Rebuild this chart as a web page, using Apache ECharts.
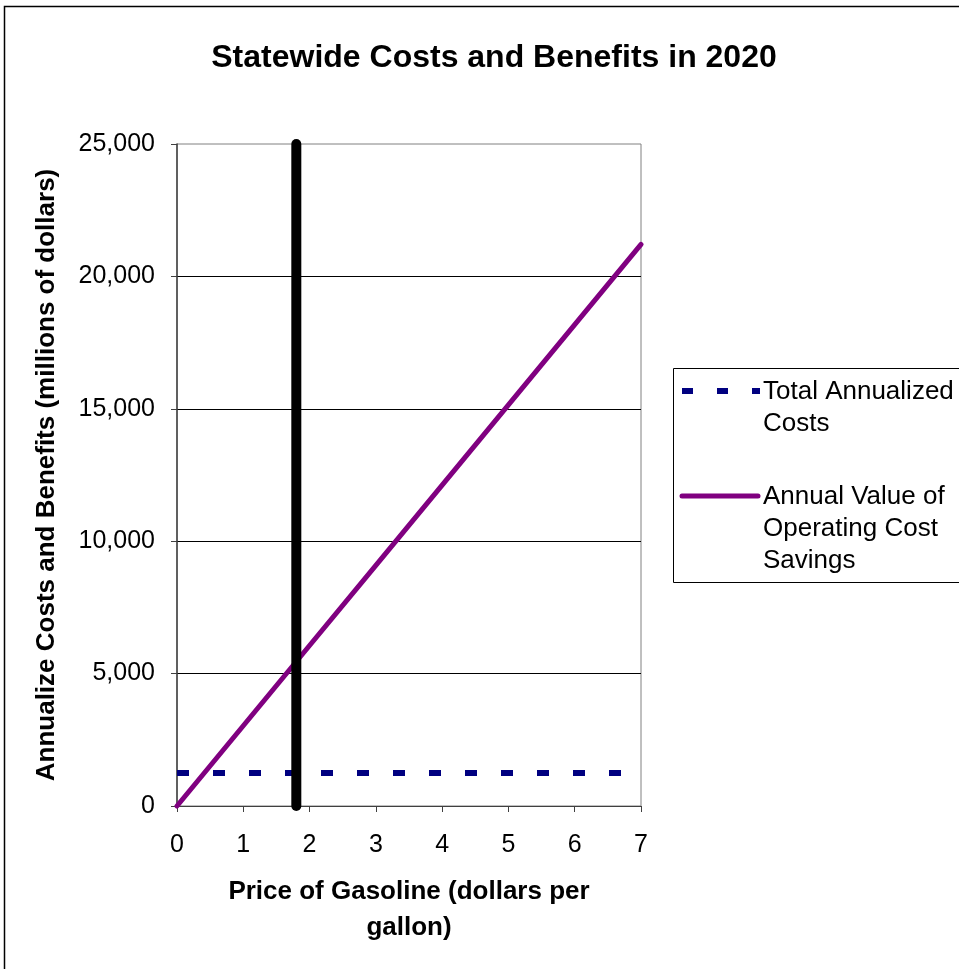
<!DOCTYPE html>
<html>
<head>
<meta charset="utf-8">
<title>Statewide Costs and Benefits in 2020</title>
<script src="https://cdn.jsdelivr.net/npm/echarts@6/dist/echarts.min.js"></script>
<style>
  html, body { margin: 0; padding: 0; background: #fff; }
  #chart { width: 959px; height: 969px; }
</style>
</head>
<body>
<div id="chart"></div>
<script>
// Gasoline price (dollars per gallon) and annual values (millions of dollars)
const priceTicks = [0, 1, 2, 3, 4, 5, 6, 7];
const costPrices = [0, 7];
const totalAnnualizedCosts = [1250, 1250];
const savingsPrices = [0, 1, 2, 3, 4, 5, 6, 7];
const operatingCostSavings = [0, 3030, 6060, 9090, 12120, 15150, 18180, 21210];
const referencePrice = [1.8, 1.8];
const referenceSpan = [0, 25000];

const costName = 'Total Annualized Costs';
const savingsName = 'Annual Value of Operating Cost Savings';

const font = '"Liberation Sans", Arial, sans-serif';

const chart = echarts.init(document.getElementById('chart'), null, { renderer: 'canvas' });

const pairs = (xs, ys) => xs.map((x, i) => [x, ys[i]]);

chart.setOption({
  animation: false,
  backgroundColor: '#ffffff',
  title: {
    text: 'Statewide Costs and Benefits in 2020',
    left: 489,
    top: 37,
    textAlign: 'center',
    textStyle: { fontFamily: font, fontSize: 32, fontWeight: 'bold', color: '#000' }
  },
  grid: {
    left: 177, top: 144, width: 464, height: 662,
    show: true, borderColor: '#808080', borderWidth: 1, backgroundColor: 'transparent'
  },
  xAxis: {
    type: 'value',
    min: 0, max: 7, interval: 1,
    name: 'Price of Gasoline (dollars per\ngallon)',
    nameLocation: 'middle',
    nameGap: 68,
    nameTextStyle: { fontFamily: font, fontSize: 26, fontWeight: 'bold', color: '#000', lineHeight: 36 },
    axisLine: { show: true, lineStyle: { color: '#404040', width: 1 } },
    axisTick: { show: true, length: 6, lineStyle: { color: '#404040' } },
    axisLabel: {
      fontFamily: font, fontSize: 25, color: '#000', margin: 27,
      formatter: v => priceTicks.includes(v) ? String(v) : ''
    },
    splitLine: { show: false }
  },
  yAxis: {
    type: 'value',
    min: 0, max: 25000, interval: 5000,
    name: 'Annualize Costs and Benefits (millions of dollars)',
    nameLocation: 'middle',
    nameGap: 117,
    nameRotate: 90,
    nameTextStyle: { fontFamily: font, fontSize: 26, fontWeight: 'bold', color: '#000' },
    axisLine: { show: true, lineStyle: { color: '#404040', width: 1.5 } },
    axisTick: { show: true, length: 6, lineStyle: { color: '#404040' } },
    axisLabel: {
      fontFamily: font, fontSize: 25, color: '#000', margin: 22,
      formatter: v => v.toLocaleString('en-US')
    },
    splitLine: { show: true, showMinLine: false, showMaxLine: false, lineStyle: { color: '#000', width: 1 } }
  },
  series: [
    {
      name: costName,
      type: 'line',
      data: pairs(costPrices, totalAnnualizedCosts),
      showSymbol: false,
      lineStyle: { color: '#000080', width: 6, type: [12, 24], cap: 'butt' },
      itemStyle: { color: '#000080' },
      z: 2
    },
    {
      name: savingsName,
      type: 'line',
      data: pairs(savingsPrices, operatingCostSavings),
      showSymbol: false,
      lineStyle: { color: '#800080', width: 5, cap: 'round' },
      itemStyle: { color: '#800080' },
      clip: false,
      z: 3
    },
    {
      name: 'Reference price',
      type: 'line',
      data: pairs(referencePrice, referenceSpan),
      showSymbol: false,
      lineStyle: { color: '#000', width: 10, cap: 'round' },
      itemStyle: { color: '#000' },
      clip: false,
      z: 4
    }
  ],
  graphic: [
    // outer chart border
    {
      type: 'rect', silent: true, z: 0,
      shape: { x: 4.5, y: 6.5, width: 1000, height: 1000 },
      style: { fill: 'none', stroke: '#000', lineWidth: 1.5 }
    },
    // legend box
    {
      type: 'rect', silent: true,
      shape: { x: 673.5, y: 368.5, width: 400, height: 214 },
      style: { fill: '#fff', stroke: '#000', lineWidth: 1 }
    },
    {
      type: 'line', silent: true,
      shape: { x1: 682, y1: 391, x2: 760, y2: 391 },
      style: { stroke: '#000080', lineWidth: 6, lineDash: [11, 24] }
    },
    {
      type: 'text', silent: true,
      style: { x: 763, y: 376, text: 'Total Annualized\nCosts', font: '26px ' + font, fill: '#000', lineHeight: 32 }
    },
    {
      type: 'line', silent: true,
      shape: { x1: 682, y1: 496, x2: 758, y2: 496 },
      style: { stroke: '#800080', lineWidth: 5, lineCap: 'round' }
    },
    {
      type: 'text', silent: true,
      style: { x: 763, y: 481, text: 'Annual Value of\nOperating Cost\nSavings', font: '26px ' + font, fill: '#000', lineHeight: 32 }
    }
  ]
});
</script>
</body>
</html>
